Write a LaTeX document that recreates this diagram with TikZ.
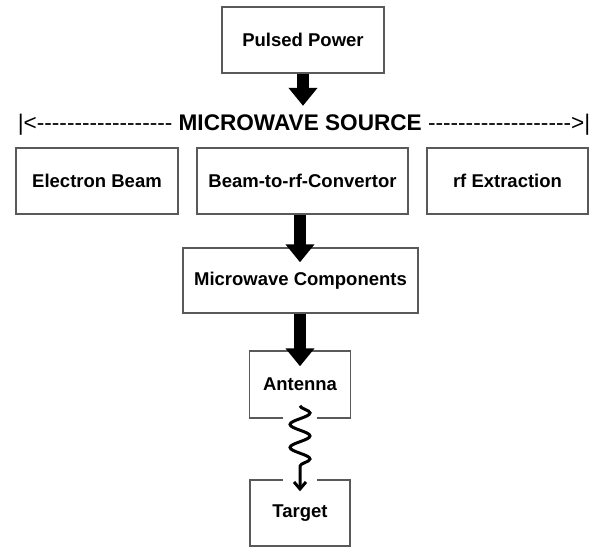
\documentclass[tikz,border=0pt]{standalone}
\usepackage{fontspec}
\setmainfont{Liberation Sans}[Ligatures=TeXOff]
\usetikzlibrary{arrows.meta,decorations.pathmorphing}

\begin{document}
\begin{tikzpicture}[x=1pt, y=-1pt,
  blockbox/.style={draw=black!65, line width=1.5pt, font=\bfseries\fontsize{18.5}{20}\selectfont, inner sep=0pt},
  bigarrow/.style={line width=12pt, -{Triangle[width=28pt,length=18pt]}},
  wavearrow/.style={line width=3pt, -{Straight Barb[length=7pt,width=12pt]}, decorate,
    decoration={snake, amplitude=10pt, segment length=23pt, post length=16pt}}]
      \useasboundingbox (0,0) rectangle (591,550);
      \node (pp) at (303,40)[blockbox, minimum width=162pt, minimum height=66pt]{Pulsed Power};
      \node (src) at (304,122)[inner sep=0pt, text height=16pt, text depth=0pt,
        font=\fontsize{22.6}{24}\selectfont]{|<------------------ \textbf{MICROWAVE SOURCE} ------------------->|};
      \node (eb) at (97,181)[blockbox, minimum width=162pt, minimum height=66pt]{Electron Beam};
      \node (conv) at (302.5,181)[blockbox, minimum width=211pt, minimum height=66pt]{Beam-to-rf-Convertor};
      \node (rfx) at (507.5,181)[blockbox, minimum width=161pt, minimum height=66pt]{rf Extraction};
      \node (mwc) at (300.5,280.5)[blockbox, minimum width=235pt, minimum height=65pt]{Microwave Components};
      \node (ant) at (300,384.5)[blockbox, minimum width=101pt, minimum height=67pt]{Antenna};
      \node (tgt) at (300,513)[blockbox, minimum width=100pt, minimum height=66pt]{Target};
      % thick arrows
      \draw[bigarrow, shorten >=8pt](pp.south)--(pp.south |- src.north);
      \draw[bigarrow, shorten >=-15pt](ant.north |- conv.south)--(ant.north |- mwc.north);
      \draw[bigarrow, shorten >=-16pt](ant.north |- mwc.south)--(ant.north);
      % radiated wave
      \draw[white, line width=34pt, shorten <=-2pt, shorten >=-2pt](ant.south)--(tgt.north);
      \draw[wavearrow]([yshift=13pt]ant.south)--([yshift=-12pt]tgt.north);
  \end{tikzpicture}
\end{document}
